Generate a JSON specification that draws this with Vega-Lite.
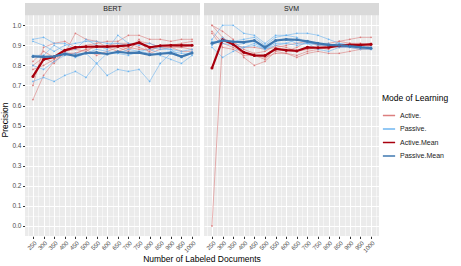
{
"$schema": "https://vega.github.io/schema/vega-lite/v6.json",
"padding": {"left": 0, "top": 3, "right": 0, "bottom": 0},
"config": {
  "font": "Liberation Sans",
  "view": {"fill": "#EBEBEB", "stroke": null},
  "axis": {"domain": false, "gridColor": "#FFFFFF", "tickColor": "#333333", "labelColor": "#4D4D4D", "labelFontSize": 6.5, "titleFontSize": 8.5, "titleFontWeight": "normal", "titleColor": "#000000", "tickSize": 2.5, "labelPadding": 1.5}
},
"data": {"values": [
{"m":"BERT","x":250,"r":"A1","g":"Active.","y":0.63},{"m":"BERT","x":300,"r":"A1","g":"Active.","y":0.75},{"m":"BERT","x":350,"r":"A1","g":"Active.","y":0.82},{"m":"BERT","x":400,"r":"A1","g":"Active.","y":0.86},{"m":"BERT","x":450,"r":"A1","g":"Active.","y":0.96},{"m":"BERT","x":500,"r":"A1","g":"Active.","y":0.93},{"m":"BERT","x":550,"r":"A1","g":"Active.","y":0.92},{"m":"BERT","x":600,"r":"A1","g":"Active.","y":0.89},{"m":"BERT","x":650,"r":"A1","g":"Active.","y":0.90},{"m":"BERT","x":700,"r":"A1","g":"Active.","y":0.88},{"m":"BERT","x":750,"r":"A1","g":"Active.","y":0.92},{"m":"BERT","x":800,"r":"A1","g":"Active.","y":0.91},{"m":"BERT","x":850,"r":"A1","g":"Active.","y":0.89},{"m":"BERT","x":900,"r":"A1","g":"Active.","y":0.90},{"m":"BERT","x":950,"r":"A1","g":"Active.","y":0.91},{"m":"BERT","x":1000,"r":"A1","g":"Active.","y":0.92},
{"m":"BERT","x":250,"r":"A2","g":"Active.","y":0.70},{"m":"BERT","x":300,"r":"A2","g":"Active.","y":0.89},{"m":"BERT","x":350,"r":"A2","g":"Active.","y":0.91},{"m":"BERT","x":400,"r":"A2","g":"Active.","y":0.92},{"m":"BERT","x":450,"r":"A2","g":"Active.","y":0.89},{"m":"BERT","x":500,"r":"A2","g":"Active.","y":0.90},{"m":"BERT","x":550,"r":"A2","g":"Active.","y":0.91},{"m":"BERT","x":600,"r":"A2","g":"Active.","y":0.92},{"m":"BERT","x":650,"r":"A2","g":"Active.","y":0.92},{"m":"BERT","x":700,"r":"A2","g":"Active.","y":0.95},{"m":"BERT","x":750,"r":"A2","g":"Active.","y":0.95},{"m":"BERT","x":800,"r":"A2","g":"Active.","y":0.93},{"m":"BERT","x":850,"r":"A2","g":"Active.","y":0.93},{"m":"BERT","x":900,"r":"A2","g":"Active.","y":0.92},{"m":"BERT","x":950,"r":"A2","g":"Active.","y":0.93},{"m":"BERT","x":1000,"r":"A2","g":"Active.","y":0.93},
{"m":"BERT","x":250,"r":"A3","g":"Active.","y":0.78},{"m":"BERT","x":300,"r":"A3","g":"Active.","y":0.80},{"m":"BERT","x":350,"r":"A3","g":"Active.","y":0.83},{"m":"BERT","x":400,"r":"A3","g":"Active.","y":0.86},{"m":"BERT","x":450,"r":"A3","g":"Active.","y":0.86},{"m":"BERT","x":500,"r":"A3","g":"Active.","y":0.88},{"m":"BERT","x":550,"r":"A3","g":"Active.","y":0.85},{"m":"BERT","x":600,"r":"A3","g":"Active.","y":0.87},{"m":"BERT","x":650,"r":"A3","g":"Active.","y":0.89},{"m":"BERT","x":700,"r":"A3","g":"Active.","y":0.87},{"m":"BERT","x":750,"r":"A3","g":"Active.","y":0.93},{"m":"BERT","x":800,"r":"A3","g":"Active.","y":0.86},{"m":"BERT","x":850,"r":"A3","g":"Active.","y":0.88},{"m":"BERT","x":900,"r":"A3","g":"Active.","y":0.89},{"m":"BERT","x":950,"r":"A3","g":"Active.","y":0.87},{"m":"BERT","x":1000,"r":"A3","g":"Active.","y":0.87},
{"m":"BERT","x":250,"r":"A4","g":"Active.","y":0.80},{"m":"BERT","x":300,"r":"A4","g":"Active.","y":0.84},{"m":"BERT","x":350,"r":"A4","g":"Active.","y":0.81},{"m":"BERT","x":400,"r":"A4","g":"Active.","y":0.87},{"m":"BERT","x":450,"r":"A4","g":"Active.","y":0.88},{"m":"BERT","x":500,"r":"A4","g":"Active.","y":0.87},{"m":"BERT","x":550,"r":"A4","g":"Active.","y":0.90},{"m":"BERT","x":600,"r":"A4","g":"Active.","y":0.89},{"m":"BERT","x":650,"r":"A4","g":"Active.","y":0.87},{"m":"BERT","x":700,"r":"A4","g":"Active.","y":0.89},{"m":"BERT","x":750,"r":"A4","g":"Active.","y":0.88},{"m":"BERT","x":800,"r":"A4","g":"Active.","y":0.88},{"m":"BERT","x":850,"r":"A4","g":"Active.","y":0.89},{"m":"BERT","x":900,"r":"A4","g":"Active.","y":0.89},{"m":"BERT","x":950,"r":"A4","g":"Active.","y":0.89},{"m":"BERT","x":1000,"r":"A4","g":"Active.","y":0.88},
{"m":"BERT","x":250,"r":"A5","g":"Active.","y":0.82},{"m":"BERT","x":300,"r":"A5","g":"Active.","y":0.87},{"m":"BERT","x":350,"r":"A5","g":"Active.","y":0.84},{"m":"BERT","x":400,"r":"A5","g":"Active.","y":0.86},{"m":"BERT","x":450,"r":"A5","g":"Active.","y":0.86},{"m":"BERT","x":500,"r":"A5","g":"Active.","y":0.88},{"m":"BERT","x":550,"r":"A5","g":"Active.","y":0.89},{"m":"BERT","x":600,"r":"A5","g":"Active.","y":0.90},{"m":"BERT","x":650,"r":"A5","g":"Active.","y":0.91},{"m":"BERT","x":700,"r":"A5","g":"Active.","y":0.91},{"m":"BERT","x":750,"r":"A5","g":"Active.","y":0.89},{"m":"BERT","x":800,"r":"A5","g":"Active.","y":0.87},{"m":"BERT","x":850,"r":"A5","g":"Active.","y":0.90},{"m":"BERT","x":900,"r":"A5","g":"Active.","y":0.90},{"m":"BERT","x":950,"r":"A5","g":"Active.","y":0.89},{"m":"BERT","x":1000,"r":"A5","g":"Active.","y":0.90},
{"m":"BERT","x":250,"r":"P1","g":"Passive.","y":0.93},{"m":"BERT","x":300,"r":"P1","g":"Passive.","y":0.94},{"m":"BERT","x":350,"r":"P1","g":"Passive.","y":0.91},{"m":"BERT","x":400,"r":"P1","g":"Passive.","y":0.91},{"m":"BERT","x":450,"r":"P1","g":"Passive.","y":0.88},{"m":"BERT","x":500,"r":"P1","g":"Passive.","y":0.93},{"m":"BERT","x":550,"r":"P1","g":"Passive.","y":0.90},{"m":"BERT","x":600,"r":"P1","g":"Passive.","y":0.88},{"m":"BERT","x":650,"r":"P1","g":"Passive.","y":0.95},{"m":"BERT","x":700,"r":"P1","g":"Passive.","y":0.91},{"m":"BERT","x":750,"r":"P1","g":"Passive.","y":0.90},{"m":"BERT","x":800,"r":"P1","g":"Passive.","y":0.91},{"m":"BERT","x":850,"r":"P1","g":"Passive.","y":0.89},{"m":"BERT","x":900,"r":"P1","g":"Passive.","y":0.88},{"m":"BERT","x":950,"r":"P1","g":"Passive.","y":0.84},{"m":"BERT","x":1000,"r":"P1","g":"Passive.","y":0.87},
{"m":"BERT","x":250,"r":"P2","g":"Passive.","y":0.92},{"m":"BERT","x":300,"r":"P2","g":"Passive.","y":0.90},{"m":"BERT","x":350,"r":"P2","g":"Passive.","y":0.87},{"m":"BERT","x":400,"r":"P2","g":"Passive.","y":0.90},{"m":"BERT","x":450,"r":"P2","g":"Passive.","y":0.91},{"m":"BERT","x":500,"r":"P2","g":"Passive.","y":0.92},{"m":"BERT","x":550,"r":"P2","g":"Passive.","y":0.92},{"m":"BERT","x":600,"r":"P2","g":"Passive.","y":0.91},{"m":"BERT","x":650,"r":"P2","g":"Passive.","y":0.91},{"m":"BERT","x":700,"r":"P2","g":"Passive.","y":0.90},{"m":"BERT","x":750,"r":"P2","g":"Passive.","y":0.91},{"m":"BERT","x":800,"r":"P2","g":"Passive.","y":0.89},{"m":"BERT","x":850,"r":"P2","g":"Passive.","y":0.88},{"m":"BERT","x":900,"r":"P2","g":"Passive.","y":0.88},{"m":"BERT","x":950,"r":"P2","g":"Passive.","y":0.87},{"m":"BERT","x":1000,"r":"P2","g":"Passive.","y":0.88},
{"m":"BERT","x":250,"r":"P3","g":"Passive.","y":0.85},{"m":"BERT","x":300,"r":"P3","g":"Passive.","y":0.85},{"m":"BERT","x":350,"r":"P3","g":"Passive.","y":0.90},{"m":"BERT","x":400,"r":"P3","g":"Passive.","y":0.87},{"m":"BERT","x":450,"r":"P3","g":"Passive.","y":0.84},{"m":"BERT","x":500,"r":"P3","g":"Passive.","y":0.86},{"m":"BERT","x":550,"r":"P3","g":"Passive.","y":0.88},{"m":"BERT","x":600,"r":"P3","g":"Passive.","y":0.87},{"m":"BERT","x":650,"r":"P3","g":"Passive.","y":0.86},{"m":"BERT","x":700,"r":"P3","g":"Passive.","y":0.88},{"m":"BERT","x":750,"r":"P3","g":"Passive.","y":0.87},{"m":"BERT","x":800,"r":"P3","g":"Passive.","y":0.88},{"m":"BERT","x":850,"r":"P3","g":"Passive.","y":0.86},{"m":"BERT","x":900,"r":"P3","g":"Passive.","y":0.87},{"m":"BERT","x":950,"r":"P3","g":"Passive.","y":0.86},{"m":"BERT","x":1000,"r":"P3","g":"Passive.","y":0.86},
{"m":"BERT","x":250,"r":"P4","g":"Passive.","y":0.80},{"m":"BERT","x":300,"r":"P4","g":"Passive.","y":0.78},{"m":"BERT","x":350,"r":"P4","g":"Passive.","y":0.82},{"m":"BERT","x":400,"r":"P4","g":"Passive.","y":0.85},{"m":"BERT","x":450,"r":"P4","g":"Passive.","y":0.86},{"m":"BERT","x":500,"r":"P4","g":"Passive.","y":0.86},{"m":"BERT","x":550,"r":"P4","g":"Passive.","y":0.81},{"m":"BERT","x":600,"r":"P4","g":"Passive.","y":0.86},{"m":"BERT","x":650,"r":"P4","g":"Passive.","y":0.86},{"m":"BERT","x":700,"r":"P4","g":"Passive.","y":0.85},{"m":"BERT","x":750,"r":"P4","g":"Passive.","y":0.87},{"m":"BERT","x":800,"r":"P4","g":"Passive.","y":0.86},{"m":"BERT","x":850,"r":"P4","g":"Passive.","y":0.85},{"m":"BERT","x":900,"r":"P4","g":"Passive.","y":0.83},{"m":"BERT","x":950,"r":"P4","g":"Passive.","y":0.81},{"m":"BERT","x":1000,"r":"P4","g":"Passive.","y":0.85},
{"m":"BERT","x":250,"r":"P5","g":"Passive.","y":0.72},{"m":"BERT","x":300,"r":"P5","g":"Passive.","y":0.74},{"m":"BERT","x":350,"r":"P5","g":"Passive.","y":0.72},{"m":"BERT","x":400,"r":"P5","g":"Passive.","y":0.75},{"m":"BERT","x":450,"r":"P5","g":"Passive.","y":0.77},{"m":"BERT","x":500,"r":"P5","g":"Passive.","y":0.74},{"m":"BERT","x":550,"r":"P5","g":"Passive.","y":0.81},{"m":"BERT","x":600,"r":"P5","g":"Passive.","y":0.75},{"m":"BERT","x":650,"r":"P5","g":"Passive.","y":0.78},{"m":"BERT","x":700,"r":"P5","g":"Passive.","y":0.77},{"m":"BERT","x":750,"r":"P5","g":"Passive.","y":0.78},{"m":"BERT","x":800,"r":"P5","g":"Passive.","y":0.72},{"m":"BERT","x":850,"r":"P5","g":"Passive.","y":0.81},{"m":"BERT","x":900,"r":"P5","g":"Passive.","y":0.86},{"m":"BERT","x":950,"r":"P5","g":"Passive.","y":0.84},{"m":"BERT","x":1000,"r":"P5","g":"Passive.","y":0.86},
{"m":"BERT","x":250,"r":"AM","g":"Active.Mean","y":0.745},{"m":"BERT","x":300,"r":"AM","g":"Active.Mean","y":0.83},{"m":"BERT","x":350,"r":"AM","g":"Active.Mean","y":0.842},{"m":"BERT","x":400,"r":"AM","g":"Active.Mean","y":0.875},{"m":"BERT","x":450,"r":"AM","g":"Active.Mean","y":0.89},{"m":"BERT","x":500,"r":"AM","g":"Active.Mean","y":0.893},{"m":"BERT","x":550,"r":"AM","g":"Active.Mean","y":0.894},{"m":"BERT","x":600,"r":"AM","g":"Active.Mean","y":0.894},{"m":"BERT","x":650,"r":"AM","g":"Active.Mean","y":0.896},{"m":"BERT","x":700,"r":"AM","g":"Active.Mean","y":0.9},{"m":"BERT","x":750,"r":"AM","g":"Active.Mean","y":0.913},{"m":"BERT","x":800,"r":"AM","g":"Active.Mean","y":0.89},{"m":"BERT","x":850,"r":"AM","g":"Active.Mean","y":0.898},{"m":"BERT","x":900,"r":"AM","g":"Active.Mean","y":0.9},{"m":"BERT","x":950,"r":"AM","g":"Active.Mean","y":0.9},{"m":"BERT","x":1000,"r":"AM","g":"Active.Mean","y":0.9},
{"m":"BERT","x":250,"r":"PM","g":"Passive.Mean","y":0.845},{"m":"BERT","x":300,"r":"PM","g":"Passive.Mean","y":0.843},{"m":"BERT","x":350,"r":"PM","g":"Passive.Mean","y":0.845},{"m":"BERT","x":400,"r":"PM","g":"Passive.Mean","y":0.857},{"m":"BERT","x":450,"r":"PM","g":"Passive.Mean","y":0.848},{"m":"BERT","x":500,"r":"PM","g":"Passive.Mean","y":0.862},{"m":"BERT","x":550,"r":"PM","g":"Passive.Mean","y":0.864},{"m":"BERT","x":600,"r":"PM","g":"Passive.Mean","y":0.857},{"m":"BERT","x":650,"r":"PM","g":"Passive.Mean","y":0.868},{"m":"BERT","x":700,"r":"PM","g":"Passive.Mean","y":0.862},{"m":"BERT","x":750,"r":"PM","g":"Passive.Mean","y":0.864},{"m":"BERT","x":800,"r":"PM","g":"Passive.Mean","y":0.853},{"m":"BERT","x":850,"r":"PM","g":"Passive.Mean","y":0.858},{"m":"BERT","x":900,"r":"PM","g":"Passive.Mean","y":0.862},{"m":"BERT","x":950,"r":"PM","g":"Passive.Mean","y":0.844},{"m":"BERT","x":1000,"r":"PM","g":"Passive.Mean","y":0.862},
{"m":"SVM","x":250,"r":"A1","g":"Active.","y":0.00},{"m":"SVM","x":300,"r":"A1","g":"Active.","y":0.93},{"m":"SVM","x":350,"r":"A1","g":"Active.","y":0.92},{"m":"SVM","x":400,"r":"A1","g":"Active.","y":0.88},{"m":"SVM","x":450,"r":"A1","g":"Active.","y":0.86},{"m":"SVM","x":500,"r":"A1","g":"Active.","y":0.87},{"m":"SVM","x":550,"r":"A1","g":"Active.","y":0.90},{"m":"SVM","x":600,"r":"A1","g":"Active.","y":0.89},{"m":"SVM","x":650,"r":"A1","g":"Active.","y":0.87},{"m":"SVM","x":700,"r":"A1","g":"Active.","y":0.88},{"m":"SVM","x":750,"r":"A1","g":"Active.","y":0.89},{"m":"SVM","x":800,"r":"A1","g":"Active.","y":0.88},{"m":"SVM","x":850,"r":"A1","g":"Active.","y":0.92},{"m":"SVM","x":900,"r":"A1","g":"Active.","y":0.93},{"m":"SVM","x":950,"r":"A1","g":"Active.","y":0.94},{"m":"SVM","x":1000,"r":"A1","g":"Active.","y":0.94},
{"m":"SVM","x":250,"r":"A2","g":"Active.","y":1.00},{"m":"SVM","x":300,"r":"A2","g":"Active.","y":0.97},{"m":"SVM","x":350,"r":"A2","g":"Active.","y":0.93},{"m":"SVM","x":400,"r":"A2","g":"Active.","y":0.84},{"m":"SVM","x":450,"r":"A2","g":"Active.","y":0.80},{"m":"SVM","x":500,"r":"A2","g":"Active.","y":0.82},{"m":"SVM","x":550,"r":"A2","g":"Active.","y":0.87},{"m":"SVM","x":600,"r":"A2","g":"Active.","y":0.86},{"m":"SVM","x":650,"r":"A2","g":"Active.","y":0.85},{"m":"SVM","x":700,"r":"A2","g":"Active.","y":0.87},{"m":"SVM","x":750,"r":"A2","g":"Active.","y":0.88},{"m":"SVM","x":800,"r":"A2","g":"Active.","y":0.90},{"m":"SVM","x":850,"r":"A2","g":"Active.","y":0.90},{"m":"SVM","x":900,"r":"A2","g":"Active.","y":0.91},{"m":"SVM","x":950,"r":"A2","g":"Active.","y":0.90},{"m":"SVM","x":1000,"r":"A2","g":"Active.","y":0.91},
{"m":"SVM","x":250,"r":"A3","g":"Active.","y":1.00},{"m":"SVM","x":300,"r":"A3","g":"Active.","y":0.94},{"m":"SVM","x":350,"r":"A3","g":"Active.","y":0.90},{"m":"SVM","x":400,"r":"A3","g":"Active.","y":0.89},{"m":"SVM","x":450,"r":"A3","g":"Active.","y":0.89},{"m":"SVM","x":500,"r":"A3","g":"Active.","y":0.88},{"m":"SVM","x":550,"r":"A3","g":"Active.","y":0.89},{"m":"SVM","x":600,"r":"A3","g":"Active.","y":0.90},{"m":"SVM","x":650,"r":"A3","g":"Active.","y":0.91},{"m":"SVM","x":700,"r":"A3","g":"Active.","y":0.92},{"m":"SVM","x":750,"r":"A3","g":"Active.","y":0.90},{"m":"SVM","x":800,"r":"A3","g":"Active.","y":0.91},{"m":"SVM","x":850,"r":"A3","g":"Active.","y":0.92},{"m":"SVM","x":900,"r":"A3","g":"Active.","y":0.91},{"m":"SVM","x":950,"r":"A3","g":"Active.","y":0.91},{"m":"SVM","x":1000,"r":"A3","g":"Active.","y":0.90},
{"m":"SVM","x":250,"r":"A4","g":"Active.","y":0.97},{"m":"SVM","x":300,"r":"A4","g":"Active.","y":0.91},{"m":"SVM","x":350,"r":"A4","g":"Active.","y":0.89},{"m":"SVM","x":400,"r":"A4","g":"Active.","y":0.86},{"m":"SVM","x":450,"r":"A4","g":"Active.","y":0.85},{"m":"SVM","x":500,"r":"A4","g":"Active.","y":0.84},{"m":"SVM","x":550,"r":"A4","g":"Active.","y":0.86},{"m":"SVM","x":600,"r":"A4","g":"Active.","y":0.86},{"m":"SVM","x":650,"r":"A4","g":"Active.","y":0.84},{"m":"SVM","x":700,"r":"A4","g":"Active.","y":0.86},{"m":"SVM","x":750,"r":"A4","g":"Active.","y":0.87},{"m":"SVM","x":800,"r":"A4","g":"Active.","y":0.86},{"m":"SVM","x":850,"r":"A4","g":"Active.","y":0.86},{"m":"SVM","x":900,"r":"A4","g":"Active.","y":0.87},{"m":"SVM","x":950,"r":"A4","g":"Active.","y":0.88},{"m":"SVM","x":1000,"r":"A4","g":"Active.","y":0.88},
{"m":"SVM","x":250,"r":"A5","g":"Active.","y":0.96},{"m":"SVM","x":300,"r":"A5","g":"Active.","y":0.89},{"m":"SVM","x":350,"r":"A5","g":"Active.","y":0.88},{"m":"SVM","x":400,"r":"A5","g":"Active.","y":0.85},{"m":"SVM","x":450,"r":"A5","g":"Active.","y":0.85},{"m":"SVM","x":500,"r":"A5","g":"Active.","y":0.83},{"m":"SVM","x":550,"r":"A5","g":"Active.","y":0.89},{"m":"SVM","x":600,"r":"A5","g":"Active.","y":0.87},{"m":"SVM","x":650,"r":"A5","g":"Active.","y":0.89},{"m":"SVM","x":700,"r":"A5","g":"Active.","y":0.92},{"m":"SVM","x":750,"r":"A5","g":"Active.","y":0.90},{"m":"SVM","x":800,"r":"A5","g":"Active.","y":0.90},{"m":"SVM","x":850,"r":"A5","g":"Active.","y":0.89},{"m":"SVM","x":900,"r":"A5","g":"Active.","y":0.89},{"m":"SVM","x":950,"r":"A5","g":"Active.","y":0.88},{"m":"SVM","x":1000,"r":"A5","g":"Active.","y":0.90},
{"m":"SVM","x":250,"r":"P1","g":"Passive.","y":0.93},{"m":"SVM","x":300,"r":"P1","g":"Passive.","y":1.00},{"m":"SVM","x":350,"r":"P1","g":"Passive.","y":1.00},{"m":"SVM","x":400,"r":"P1","g":"Passive.","y":0.96},{"m":"SVM","x":450,"r":"P1","g":"Passive.","y":0.95},{"m":"SVM","x":500,"r":"P1","g":"Passive.","y":0.91},{"m":"SVM","x":550,"r":"P1","g":"Passive.","y":0.95},{"m":"SVM","x":600,"r":"P1","g":"Passive.","y":0.95},{"m":"SVM","x":650,"r":"P1","g":"Passive.","y":0.96},{"m":"SVM","x":700,"r":"P1","g":"Passive.","y":0.96},{"m":"SVM","x":750,"r":"P1","g":"Passive.","y":0.95},{"m":"SVM","x":800,"r":"P1","g":"Passive.","y":0.93},{"m":"SVM","x":850,"r":"P1","g":"Passive.","y":0.91},{"m":"SVM","x":900,"r":"P1","g":"Passive.","y":0.90},{"m":"SVM","x":950,"r":"P1","g":"Passive.","y":0.89},{"m":"SVM","x":1000,"r":"P1","g":"Passive.","y":0.89},
{"m":"SVM","x":250,"r":"P2","g":"Passive.","y":0.91},{"m":"SVM","x":300,"r":"P2","g":"Passive.","y":0.93},{"m":"SVM","x":350,"r":"P2","g":"Passive.","y":0.92},{"m":"SVM","x":400,"r":"P2","g":"Passive.","y":0.93},{"m":"SVM","x":450,"r":"P2","g":"Passive.","y":0.94},{"m":"SVM","x":500,"r":"P2","g":"Passive.","y":0.90},{"m":"SVM","x":550,"r":"P2","g":"Passive.","y":0.94},{"m":"SVM","x":600,"r":"P2","g":"Passive.","y":0.95},{"m":"SVM","x":650,"r":"P2","g":"Passive.","y":0.94},{"m":"SVM","x":700,"r":"P2","g":"Passive.","y":0.91},{"m":"SVM","x":750,"r":"P2","g":"Passive.","y":0.90},{"m":"SVM","x":800,"r":"P2","g":"Passive.","y":0.90},{"m":"SVM","x":850,"r":"P2","g":"Passive.","y":0.91},{"m":"SVM","x":900,"r":"P2","g":"Passive.","y":0.90},{"m":"SVM","x":950,"r":"P2","g":"Passive.","y":0.90},{"m":"SVM","x":1000,"r":"P2","g":"Passive.","y":0.88},
{"m":"SVM","x":250,"r":"P3","g":"Passive.","y":0.92},{"m":"SVM","x":300,"r":"P3","g":"Passive.","y":0.91},{"m":"SVM","x":350,"r":"P3","g":"Passive.","y":0.90},{"m":"SVM","x":400,"r":"P3","g":"Passive.","y":0.91},{"m":"SVM","x":450,"r":"P3","g":"Passive.","y":0.92},{"m":"SVM","x":500,"r":"P3","g":"Passive.","y":0.88},{"m":"SVM","x":550,"r":"P3","g":"Passive.","y":0.92},{"m":"SVM","x":600,"r":"P3","g":"Passive.","y":0.93},{"m":"SVM","x":650,"r":"P3","g":"Passive.","y":0.91},{"m":"SVM","x":700,"r":"P3","g":"Passive.","y":0.91},{"m":"SVM","x":750,"r":"P3","g":"Passive.","y":0.91},{"m":"SVM","x":800,"r":"P3","g":"Passive.","y":0.91},{"m":"SVM","x":850,"r":"P3","g":"Passive.","y":0.89},{"m":"SVM","x":900,"r":"P3","g":"Passive.","y":0.89},{"m":"SVM","x":950,"r":"P3","g":"Passive.","y":0.89},{"m":"SVM","x":1000,"r":"P3","g":"Passive.","y":0.89},
{"m":"SVM","x":250,"r":"P4","g":"Passive.","y":0.90},{"m":"SVM","x":300,"r":"P4","g":"Passive.","y":0.94},{"m":"SVM","x":350,"r":"P4","g":"Passive.","y":0.90},{"m":"SVM","x":400,"r":"P4","g":"Passive.","y":0.89},{"m":"SVM","x":450,"r":"P4","g":"Passive.","y":0.91},{"m":"SVM","x":500,"r":"P4","g":"Passive.","y":0.88},{"m":"SVM","x":550,"r":"P4","g":"Passive.","y":0.91},{"m":"SVM","x":600,"r":"P4","g":"Passive.","y":0.91},{"m":"SVM","x":650,"r":"P4","g":"Passive.","y":0.93},{"m":"SVM","x":700,"r":"P4","g":"Passive.","y":0.91},{"m":"SVM","x":750,"r":"P4","g":"Passive.","y":0.91},{"m":"SVM","x":800,"r":"P4","g":"Passive.","y":0.90},{"m":"SVM","x":850,"r":"P4","g":"Passive.","y":0.90},{"m":"SVM","x":900,"r":"P4","g":"Passive.","y":0.89},{"m":"SVM","x":950,"r":"P4","g":"Passive.","y":0.88},{"m":"SVM","x":1000,"r":"P4","g":"Passive.","y":0.88},
{"m":"SVM","x":250,"r":"P5","g":"Passive.","y":0.89},{"m":"SVM","x":300,"r":"P5","g":"Passive.","y":0.84},{"m":"SVM","x":350,"r":"P5","g":"Passive.","y":0.87},{"m":"SVM","x":400,"r":"P5","g":"Passive.","y":0.89},{"m":"SVM","x":450,"r":"P5","g":"Passive.","y":0.90},{"m":"SVM","x":500,"r":"P5","g":"Passive.","y":0.88},{"m":"SVM","x":550,"r":"P5","g":"Passive.","y":0.90},{"m":"SVM","x":600,"r":"P5","g":"Passive.","y":0.91},{"m":"SVM","x":650,"r":"P5","g":"Passive.","y":0.90},{"m":"SVM","x":700,"r":"P5","g":"Passive.","y":0.91},{"m":"SVM","x":750,"r":"P5","g":"Passive.","y":0.88},{"m":"SVM","x":800,"r":"P5","g":"Passive.","y":0.87},{"m":"SVM","x":850,"r":"P5","g":"Passive.","y":0.89},{"m":"SVM","x":900,"r":"P5","g":"Passive.","y":0.90},{"m":"SVM","x":950,"r":"P5","g":"Passive.","y":0.89},{"m":"SVM","x":1000,"r":"P5","g":"Passive.","y":0.89},
{"m":"SVM","x":250,"r":"AM","g":"Active.Mean","y":0.787},{"m":"SVM","x":300,"r":"AM","g":"Active.Mean","y":0.928},{"m":"SVM","x":350,"r":"AM","g":"Active.Mean","y":0.905},{"m":"SVM","x":400,"r":"AM","g":"Active.Mean","y":0.865},{"m":"SVM","x":450,"r":"AM","g":"Active.Mean","y":0.85},{"m":"SVM","x":500,"r":"AM","g":"Active.Mean","y":0.849},{"m":"SVM","x":550,"r":"AM","g":"Active.Mean","y":0.882},{"m":"SVM","x":600,"r":"AM","g":"Active.Mean","y":0.876},{"m":"SVM","x":650,"r":"AM","g":"Active.Mean","y":0.872},{"m":"SVM","x":700,"r":"AM","g":"Active.Mean","y":0.89},{"m":"SVM","x":750,"r":"AM","g":"Active.Mean","y":0.888},{"m":"SVM","x":800,"r":"AM","g":"Active.Mean","y":0.89},{"m":"SVM","x":850,"r":"AM","g":"Active.Mean","y":0.898},{"m":"SVM","x":900,"r":"AM","g":"Active.Mean","y":0.902},{"m":"SVM","x":950,"r":"AM","g":"Active.Mean","y":0.902},{"m":"SVM","x":1000,"r":"AM","g":"Active.Mean","y":0.905},
{"m":"SVM","x":250,"r":"PM","g":"Passive.Mean","y":0.91},{"m":"SVM","x":300,"r":"PM","g":"Passive.Mean","y":0.924},{"m":"SVM","x":350,"r":"PM","g":"Passive.Mean","y":0.918},{"m":"SVM","x":400,"r":"PM","g":"Passive.Mean","y":0.916},{"m":"SVM","x":450,"r":"PM","g":"Passive.Mean","y":0.924},{"m":"SVM","x":500,"r":"PM","g":"Passive.Mean","y":0.89},{"m":"SVM","x":550,"r":"PM","g":"Passive.Mean","y":0.924},{"m":"SVM","x":600,"r":"PM","g":"Passive.Mean","y":0.93},{"m":"SVM","x":650,"r":"PM","g":"Passive.Mean","y":0.928},{"m":"SVM","x":700,"r":"PM","g":"Passive.Mean","y":0.92},{"m":"SVM","x":750,"r":"PM","g":"Passive.Mean","y":0.91},{"m":"SVM","x":800,"r":"PM","g":"Passive.Mean","y":0.902},{"m":"SVM","x":850,"r":"PM","g":"Passive.Mean","y":0.9},{"m":"SVM","x":900,"r":"PM","g":"Passive.Mean","y":0.896},{"m":"SVM","x":950,"r":"PM","g":"Passive.Mean","y":0.89},{"m":"SVM","x":1000,"r":"PM","g":"Passive.Mean","y":0.886}
]},
"facet": {"column": {"field": "m", "type": "nominal", "header": {"title": "Number of Labeled Documents", "titleOrient": "bottom", "titleFontSize": 8.5, "titleFontWeight": "normal", "titleColor": "#000000", "titlePadding": -9, "labels": false, "labelPadding": 0}}},
"spacing": 4,
"spec": {
  "width": 175,
  "height": 233,
  "encoding": {
    "x": {"field": "x", "type": "quantitative", "title": null,
      "scale": {"domain": [212.5, 1037.5], "nice": false, "zero": false},
      "axis": {"values": [225,250,275,300,325,350,375,400,425,450,475,500,525,550,575,600,625,650,675,700,725,750,775,800,825,850,875,900,925,950,975,1000,1025],
        "labelExpr": "(datum.value % 50 == 0 && datum.value >= 250 && datum.value <= 1000) ? ('' + datum.value) : ''",
        "labelOverlap": false, "labelFlush": false, "labelFontSize": 6, "labelPadding": 1,
        "labelAngle": -45, "labelAlign": "right", "labelBaseline": "top",
        "gridWidth": {"condition": {"test": "datum.value % 50 != 0", "value": 0.5}, "value": 1},
        "tickOpacity": {"condition": {"test": "datum.value % 50 != 0", "value": 0}, "value": 1}}},
    "y": {"field": "y", "type": "quantitative", "title": "Precision",
      "scale": {"domain": [-0.05, 1.111], "nice": false, "zero": false},
      "axis": {"values": [0,0.05,0.1,0.15,0.2,0.25,0.3,0.35,0.4,0.45,0.5,0.55,0.6,0.65,0.7,0.75,0.8,0.85,0.9,0.95,1.0],
        "labelExpr": "abs(datum.value*10 - round(datum.value*10)) < 0.01 ? format(datum.value, '.1f') : ''",
        "labelOverlap": false, "labelFlush": false,
        "gridWidth": {"condition": {"test": "abs(datum.value*10 - round(datum.value*10)) > 0.01", "value": 0.5}, "value": 1},
        "tickOpacity": {"condition": {"test": "abs(datum.value*10 - round(datum.value*10)) > 0.01", "value": 0}, "value": 1},
        "titlePadding": 2}}
  },
  "layer": [
    {"transform": [{"filter": "datum.g == 'Active.' || datum.g == 'Passive.'"}],
     "mark": {"type": "line", "strokeWidth": 0.6, "point": {"size": 3, "filled": true}},
     "encoding": {"color": {"field": "g", "type": "nominal", "title": "Mode of Learning",
        "scale": {"domain": ["Active.", "Passive.", "Active.Mean", "Passive.Mean"], "range": ["#DC7F7F", "#6FB6F0", "#A8000E", "#3F78B0"]},
        "legend": {"orient": "none", "legendX": 357, "legendY": 91, "symbolType": "stroke", "symbolStrokeWidth": 1.5, "symbolSize": 150, "titleFontSize": 8.5, "titleFontWeight": "normal", "titleColor": "#000000", "labelFontSize": 7, "labelColor": "#1A1A1A", "rowPadding": 3.5, "titlePadding": 6}},
      "detail": {"field": "r"}}},
    {"transform": [{"filter": "datum.g == 'Active.Mean' || datum.g == 'Passive.Mean'"}],
     "mark": {"type": "line", "strokeWidth": 2.2, "point": {"size": 9, "filled": true}},
     "encoding": {"color": {"field": "g", "type": "nominal"}, "detail": {"field": "r"}}},
    {"transform": [{"filter": "datum.x == 250 && datum.r == 'AM'"}],
     "mark": {"type": "rect", "fill": "#D9D9D9", "strokeWidth": 0},
     "encoding": {"x": {"datum": 212.5}, "x2": {"datum": 1037.5}, "y": {"datum": 1.05}, "y2": {"datum": 1.111}}},
    {"transform": [{"filter": "datum.x == 250 && datum.r == 'AM'"}],
     "mark": {"type": "text", "fontSize": 7, "color": "#1A1A1A", "baseline": "middle"},
     "encoding": {"x": {"datum": 625}, "y": {"datum": 1.081}, "text": {"field": "m"}}}
  ]
}
}
